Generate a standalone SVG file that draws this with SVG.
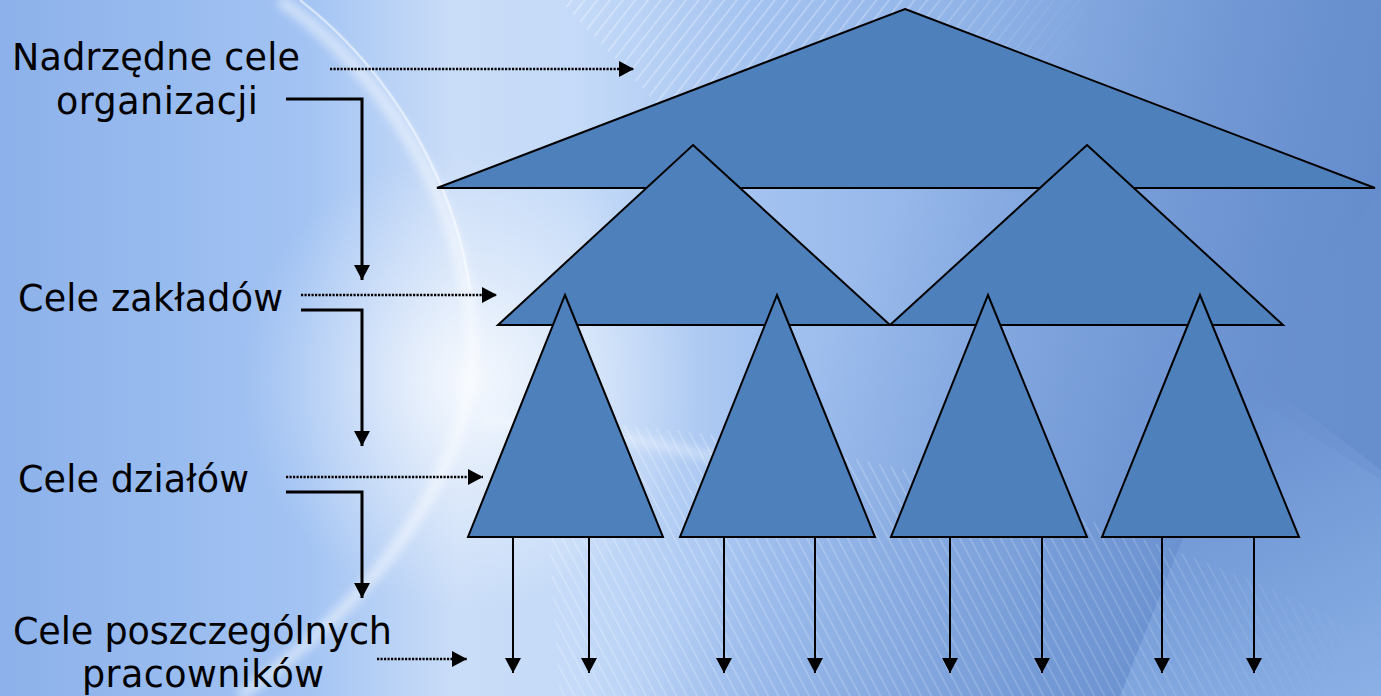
<svg xmlns="http://www.w3.org/2000/svg" width="1381" height="696" viewBox="0 0 1381 696">
<defs>
  <linearGradient id="bgH" x1="0" y1="0" x2="1381" y2="0" gradientUnits="userSpaceOnUse">
    <stop offset="0" stop-color="#8CB1EA"/>
    <stop offset="0.22" stop-color="#A2C3F3"/>
    <stop offset="0.33" stop-color="#CADDF8"/>
    <stop offset="0.42" stop-color="#C4DAF8"/>
    <stop offset="0.55" stop-color="#A3C2F0"/>
    <stop offset="0.75" stop-color="#8AAEE4"/>
    <stop offset="1" stop-color="#6F96D2"/>
  </linearGradient>
  <radialGradient id="glow" cx="470" cy="380" r="230" gradientUnits="userSpaceOnUse">
    <stop offset="0" stop-color="#FFFFFF" stop-opacity="0.8"/>
    <stop offset="0.5" stop-color="#FFFFFF" stop-opacity="0.35"/>
    <stop offset="1" stop-color="#FFFFFF" stop-opacity="0"/>
  </radialGradient>
  <linearGradient id="darkTR" x1="1000" y1="0" x2="1381" y2="200" gradientUnits="userSpaceOnUse">
    <stop offset="0" stop-color="#5E86C8" stop-opacity="0"/>
    <stop offset="1" stop-color="#5E86C8" stop-opacity="0.6"/>
  </linearGradient>
  <linearGradient id="lightBR" x1="1381" y1="696" x2="1200" y2="420" gradientUnits="userSpaceOnUse">
    <stop offset="0" stop-color="#9CC0F2" stop-opacity="0.7"/>
    <stop offset="1" stop-color="#9CC0F2" stop-opacity="0"/>
  </linearGradient>
  <pattern id="stripesTop" width="10" height="10" patternUnits="userSpaceOnUse" patternTransform="rotate(38)">
    <rect width="1.3" height="10" fill="#FFFFFF"/>
  </pattern>
  <pattern id="stripesBot" width="9" height="9" patternUnits="userSpaceOnUse" patternTransform="rotate(-28)">
    <rect width="1.3" height="9" fill="#FFFFFF"/>
  </pattern>
  <linearGradient id="fadeTop" x1="600" y1="0" x2="1050" y2="150" gradientUnits="userSpaceOnUse">
    <stop offset="0" stop-color="#FFFFFF" stop-opacity="0.6"/>
    <stop offset="0.6" stop-color="#FFFFFF" stop-opacity="0.5"/>
    <stop offset="1" stop-color="#FFFFFF" stop-opacity="0"/>
  </linearGradient>
  <linearGradient id="fadeBot" x1="560" y1="430" x2="1350" y2="696" gradientUnits="userSpaceOnUse">
    <stop offset="0" stop-color="#FFFFFF" stop-opacity="0.5"/>
    <stop offset="0.7" stop-color="#FFFFFF" stop-opacity="0.35"/>
    <stop offset="1" stop-color="#FFFFFF" stop-opacity="0"/>
  </linearGradient>
  <mask id="mTop"><rect width="1381" height="696" fill="url(#fadeTop)"/></mask>
  <mask id="mBot"><rect width="1381" height="696" fill="url(#fadeBot)"/></mask>
  <filter id="blur" x="-20%" y="-20%" width="140%" height="140%">
    <feGaussianBlur stdDeviation="5"/>
  </filter>
  <marker id="ah" markerUnits="userSpaceOnUse" markerWidth="15" markerHeight="16" viewBox="0 0 15 16" refX="15" refY="8" orient="auto">
    <path d="M0,0 L15,8 L0,16 Z" fill="#000"/>
  </marker>
</defs>
<style>
  .tri{fill:#4E80BC;stroke:#000;stroke-width:2;stroke-linejoin:miter}
  .lbl{font-family:"DejaVu Sans","Verdana",sans-serif;font-size:36.5px;fill:#000}
  .solid{fill:none;stroke:#000;stroke-width:3;stroke-linejoin:miter}
  .thin{fill:none;stroke:#000;stroke-width:2}
  .dot{fill:none;stroke:#000;stroke-width:2.6;stroke-dasharray:2.2 1.3}
</style>

<g id="background">
  <rect width="1381" height="696" fill="url(#bgH)"/>
  <rect width="1381" height="696" fill="url(#darkTR)"/>
  <path d="M1381,470 L1250,370 L1120,696 L1381,696 Z" fill="url(#lightBR)"/>
  <path d="M1381,190 L1235,385 L1381,480 Z" fill="#6A90CE" opacity="0.45"/>
  <rect width="1381" height="696" fill="url(#glow)"/>
  <path d="M560,0 L1100,0 L1000,150 L700,150 Z" fill="url(#stripesTop)" mask="url(#mTop)" opacity="0.7"/>
  <path d="M540,420 C800,430 1100,500 1381,640 L1381,696 L560,696 Z" fill="url(#stripesBot)" mask="url(#mBot)" opacity="0.6"/>
  <path d="M280,0 C380,70 460,190 472,330 C482,450 390,590 240,696" fill="none" stroke="#FFFFFF" stroke-width="12" opacity="0.5" filter="url(#blur)"/>
  <path d="M300,0 C390,70 455,180 470,290" fill="none" stroke="#FFFFFF" stroke-width="2.5" opacity="0.5"/>
  <path d="M480,420 C600,430 700,450 800,480" fill="none" stroke="#FFFFFF" stroke-width="10" opacity="0.35" filter="url(#blur)"/>
</g>

<g id="node-organizacja">
  <polygon class="tri" points="905,9 1375,188 437,188"/>
</g>
<g id="node-zaklad-1">
  <polygon class="tri" points="693,145 890,325 498,325"/>
</g>
<g id="node-zaklad-2">
  <polygon class="tri" points="1087,145 1283,325 890,325"/>
</g>
<g id="node-dzial-1">
  <polygon class="tri" points="565,295 663,537 468,537"/>
</g>
<g id="node-dzial-2">
  <polygon class="tri" points="777,295 875,537 680,537"/>
</g>
<g id="node-dzial-3">
  <polygon class="tri" points="988,295 1087,537 891,537"/>
</g>
<g id="node-dzial-4">
  <polygon class="tri" points="1200,295 1299,537 1102,537"/>
</g>

<g id="labels">
  <text class="lbl" x="12" y="70" textLength="288">Nadrzędne cele</text>
  <text class="lbl" x="56" y="114" textLength="202">organizacji</text>
  <text class="lbl" x="18" y="311" textLength="265">Cele zakładów</text>
  <text class="lbl" x="18" y="492" textLength="231">Cele działów</text>
  <text class="lbl" x="13" y="644" textLength="379">Cele poszczególnych</text>
  <text class="lbl" x="82" y="687" textLength="242">pracowników</text>
</g>

<g id="connectors">
  <path class="dot" d="M330,69 H634" marker-end="url(#ah)"/>
  <path class="dot" d="M301,295 H497" marker-end="url(#ah)"/>
  <path class="dot" d="M286,477 H483" marker-end="url(#ah)"/>
  <path class="dot" d="M377,659 H467" marker-end="url(#ah)"/>
  <path class="solid" d="M286,99 H362 V280" marker-end="url(#ah)"/>
  <path class="solid" d="M301,310 H362 V446" marker-end="url(#ah)"/>
  <path class="solid" d="M286,492 H362 V598" marker-end="url(#ah)"/>
  <path class="thin" d="M513,537 V673" marker-end="url(#ah)"/>
  <path class="thin" d="M589,537 V673" marker-end="url(#ah)"/>
  <path class="thin" d="M724,537 V673" marker-end="url(#ah)"/>
  <path class="thin" d="M815,537 V673" marker-end="url(#ah)"/>
  <path class="thin" d="M950,537 V673" marker-end="url(#ah)"/>
  <path class="thin" d="M1042,537 V673" marker-end="url(#ah)"/>
  <path class="thin" d="M1162,537 V673" marker-end="url(#ah)"/>
  <path class="thin" d="M1254,537 V673" marker-end="url(#ah)"/>
</g>
</svg>
